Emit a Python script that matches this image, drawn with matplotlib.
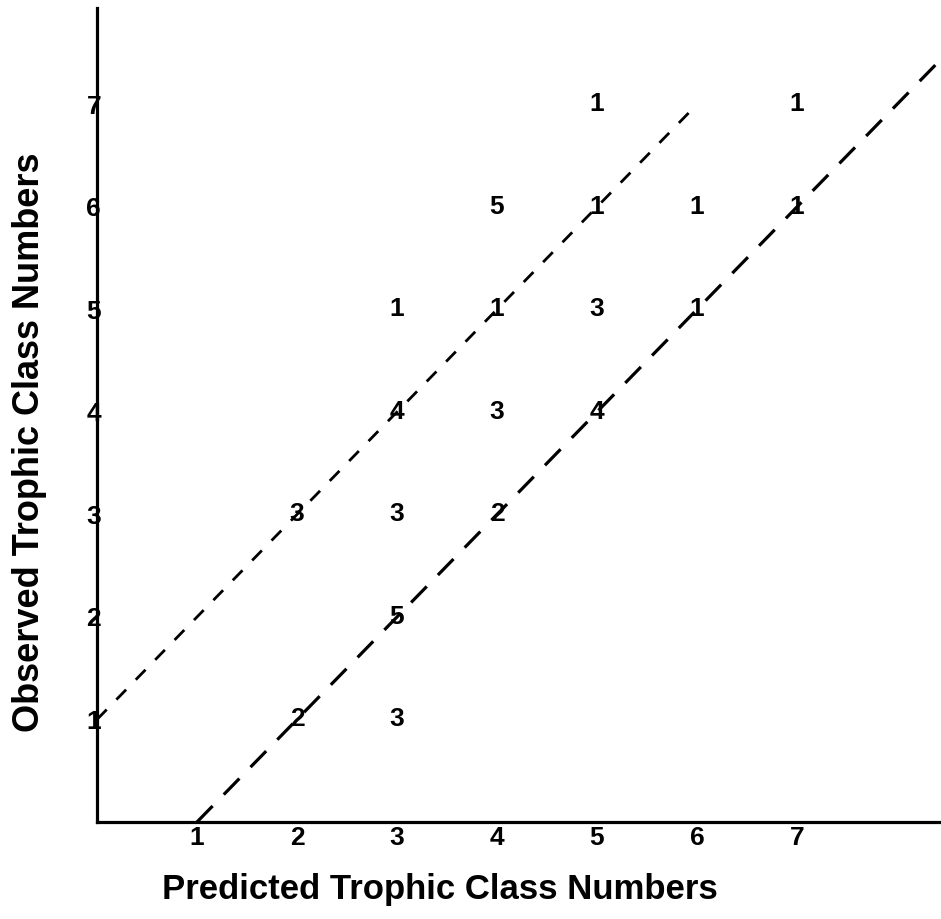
import numpy as np
import matplotlib.pyplot as plt

# Counts of lakes at each (predicted, observed) trophic class pair
predicted = [2, 3, 3, 2, 3, 4, 3, 4, 5, 3, 4, 5, 6, 4, 5, 6, 7, 5, 7]
observed  = [1, 1, 2, 3, 3, 3, 4, 4, 4, 5, 5, 5, 5, 6, 6, 6, 6, 7, 7]
counts    = [2, 3, 5, 3, 3, 2, 4, 3, 4, 1, 1, 3, 1, 5, 1, 1, 1, 1, 1]

class_ticks = [1, 2, 3, 4, 5, 6, 7]

# Boundary lines: observed = predicted + 1 and observed = predicted - 1
upper_x = [0, 6]
lower_x = [1, 8.45]

plt.rcParams['font.family'] = ['Liberation Sans', 'DejaVu Sans']
plt.rcParams['font.weight'] = 'bold'

fig = plt.figure(figsize=(9.41, 9.19), dpi=100)
ax = fig.add_axes([97 / 941, 97 / 919, 843 / 941, 814 / 919])
ax.set_xlim(0, 8.43)
ax.set_ylim(0, 7.94)

for side in ['top', 'right']:
    ax.spines[side].set_visible(False)
for side in ['left', 'bottom']:
    ax.spines[side].set_linewidth(2.3)

ax.set_xticks(class_ticks)
ax.set_yticks(class_ticks)
ax.set_xticklabels([str(t) for t in class_ticks], fontsize=19, fontweight='bold')
ax.set_yticklabels([str(t) for t in class_ticks], fontsize=19, fontweight='bold')
ax.tick_params(axis='x', length=0, pad=3)
ax.tick_params(axis='y', length=0, pad=-3)

ux = np.array(upper_x)
ax.plot(ux, ux + 1, color='black', linewidth=2.0, dashes=(5, 5), clip_on=False)
lx = np.array(lower_x)
ax.plot(lx, lx - 1, color='black', linewidth=2.3, dashes=(7, 5), clip_on=False)

for px, ob, n in zip(predicted, observed, counts):
    ax.text(px, ob, str(n), ha='center', va='center', fontsize=19,
            fontweight='bold', color='black')

fig.text(30 / 941, 1 - 442 / 919, 'Observed Trophic Class Numbers', rotation=90,
         ha='center', va='center', fontsize=26, fontweight='bold')
fig.text(440 / 941, 1 - 890 / 919, 'Predicted Trophic Class Numbers',
         ha='center', va='center', fontsize=25, fontweight='bold')

fig.savefig('out.png', dpi=100, facecolor='white')
